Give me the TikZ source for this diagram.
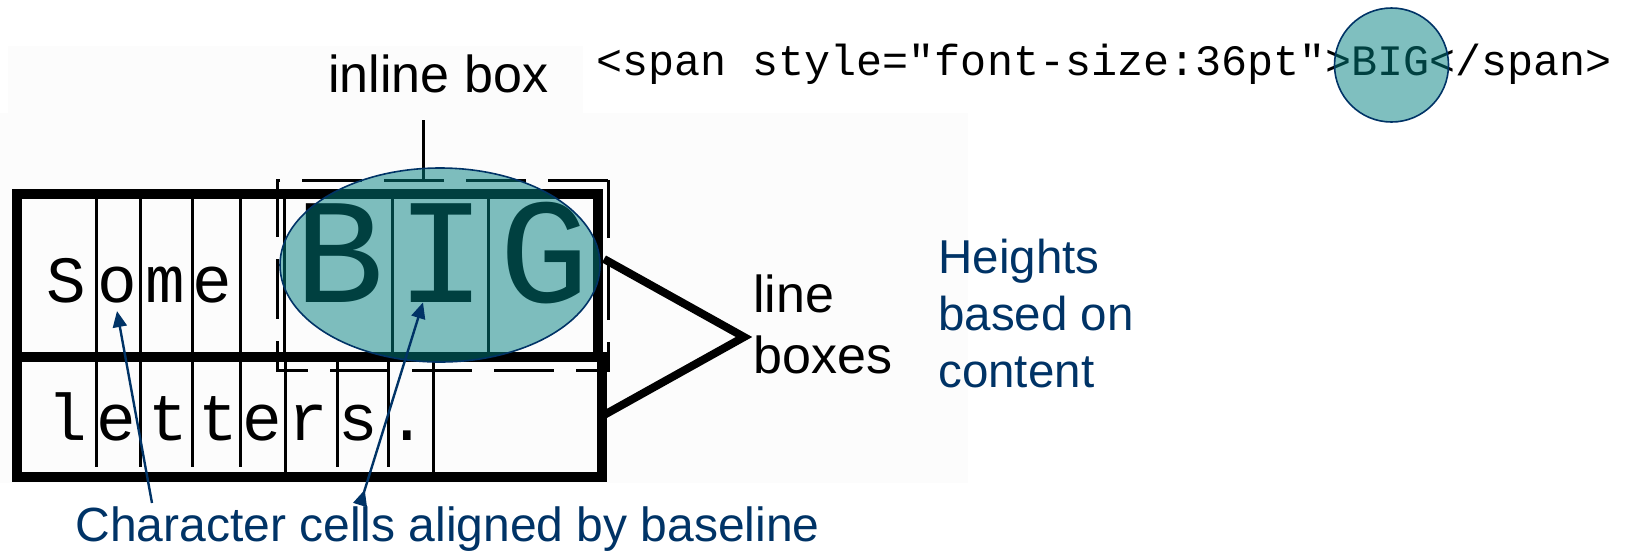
\documentclass[tikz,border=0pt]{standalone}
\usepackage{fontspec}
\setmainfont{Liberation Sans}
\setmonofont{Liberation Mono}
\usetikzlibrary{arrows.meta}
\definecolor{navy}{RGB}{0,51,102}
\definecolor{hilite}{RGB}{0,128,128}
\begin{document}
\begin{tikzpicture}[x=0.5pt,y=-0.5pt,
  cellchar/.style={anchor=base,inner sep=0pt,font=\ttfamily\fontsize{33}{33}\selectfont},
  bigchar/.style={anchor=base,inner sep=0pt,font=\ttfamily\fontsize{75}{75}\selectfont},
  label/.style={anchor=base west,inner sep=0pt,align=left},
  cellline/.style={line width=1.5pt},
  linebox/.style={line width=5pt},
  pointer/.style={navy,line width=1.2pt,-{Triangle[length=8pt,width=7pt]}},
  spot/.style={fill=hilite,fill opacity=0.5,draw=navy,line width=0.8pt}]
\useasboundingbox (0,0) rectangle (1625,553);
\fill[black!1.2] (8,46) rectangle (583,113) (0,113) rectangle (968,483);
\node[label,font=\fontsize{26}{26}\selectfont] (inl) at (328,92) {inline box};
\node[label,font=\ttfamily\fontsize{21.7}{21.7}\selectfont] (code) at (596,75) {<span style="font-size:36pt">BIG</span>};
\coordinate (ib1) at (423,120);
\coordinate (ib2) at (423,180);
\path[draw,cellline] (ib1)--(ib2);
\foreach \x in {96,140,192,240,284,392,488} \path[draw,cellline] (\x,194)--(\x,357);
\foreach \x in {96,140,192,240,337,388} \path[draw,cellline] (\x,357)--(\x,467);
\foreach \x in {285,433} \path[draw,cellline] (\x,357)--(\x,477);
\foreach \c/\x [count=\i] in {S/66,o/117,m/165,e/212}
  \node[cellchar] (s\i) at (\x,302) {\c};
\foreach \c/\x [count=\i] in {l/67,e/116,t/168,t/218,e/262,r/308,s/358,./407}
  \node[cellchar] (l\i) at (\x,440) {\c};
\foreach \c/\x [count=\i] in {B/340,I/442,G/544}
  \node[bigchar] (b\i) at (\x,302) {\c};
\draw[linebox] (17,194) rectangle (598,357);
\draw[linebox] (17,357) rectangle (602,477);
\draw[cellline,dash pattern=on 30pt off 11pt] (608,180)--(277,180)--(277,370)--(608,370)--cycle;
\draw[line width=4pt] (604,259)--(744,337)--(604,415);
\node[label,font=\fontsize{26}{30.5}\selectfont] (lb) at (753,373) {line\\boxes};
\node[label,text=navy,font=\fontsize{23.75}{28.5}\selectfont] (ht) at (938,387) {Heights\\based on\\content};
\node[label,text=navy,font=\fontsize{24}{24}\selectfont] (cc) at (75,541) {Character cells aligned by baseline};
\draw[spot] (440,265) ellipse [x radius=80pt,y radius=48.5pt];
\draw[spot] (1391.5,65) circle [radius=28.5pt];
\coordinate (t1) at (152,503);
\coordinate (t2) at (360,505);
\draw[pointer] (t1)--([yshift=-4pt]s2.south);
\draw[pointer,{Triangle[length=8pt,width=7pt,reversed]}-{Triangle[length=8pt,width=7pt]}] (t2)--([xshift=-9.5pt]b2.south);
\end{tikzpicture}
\end{document}
